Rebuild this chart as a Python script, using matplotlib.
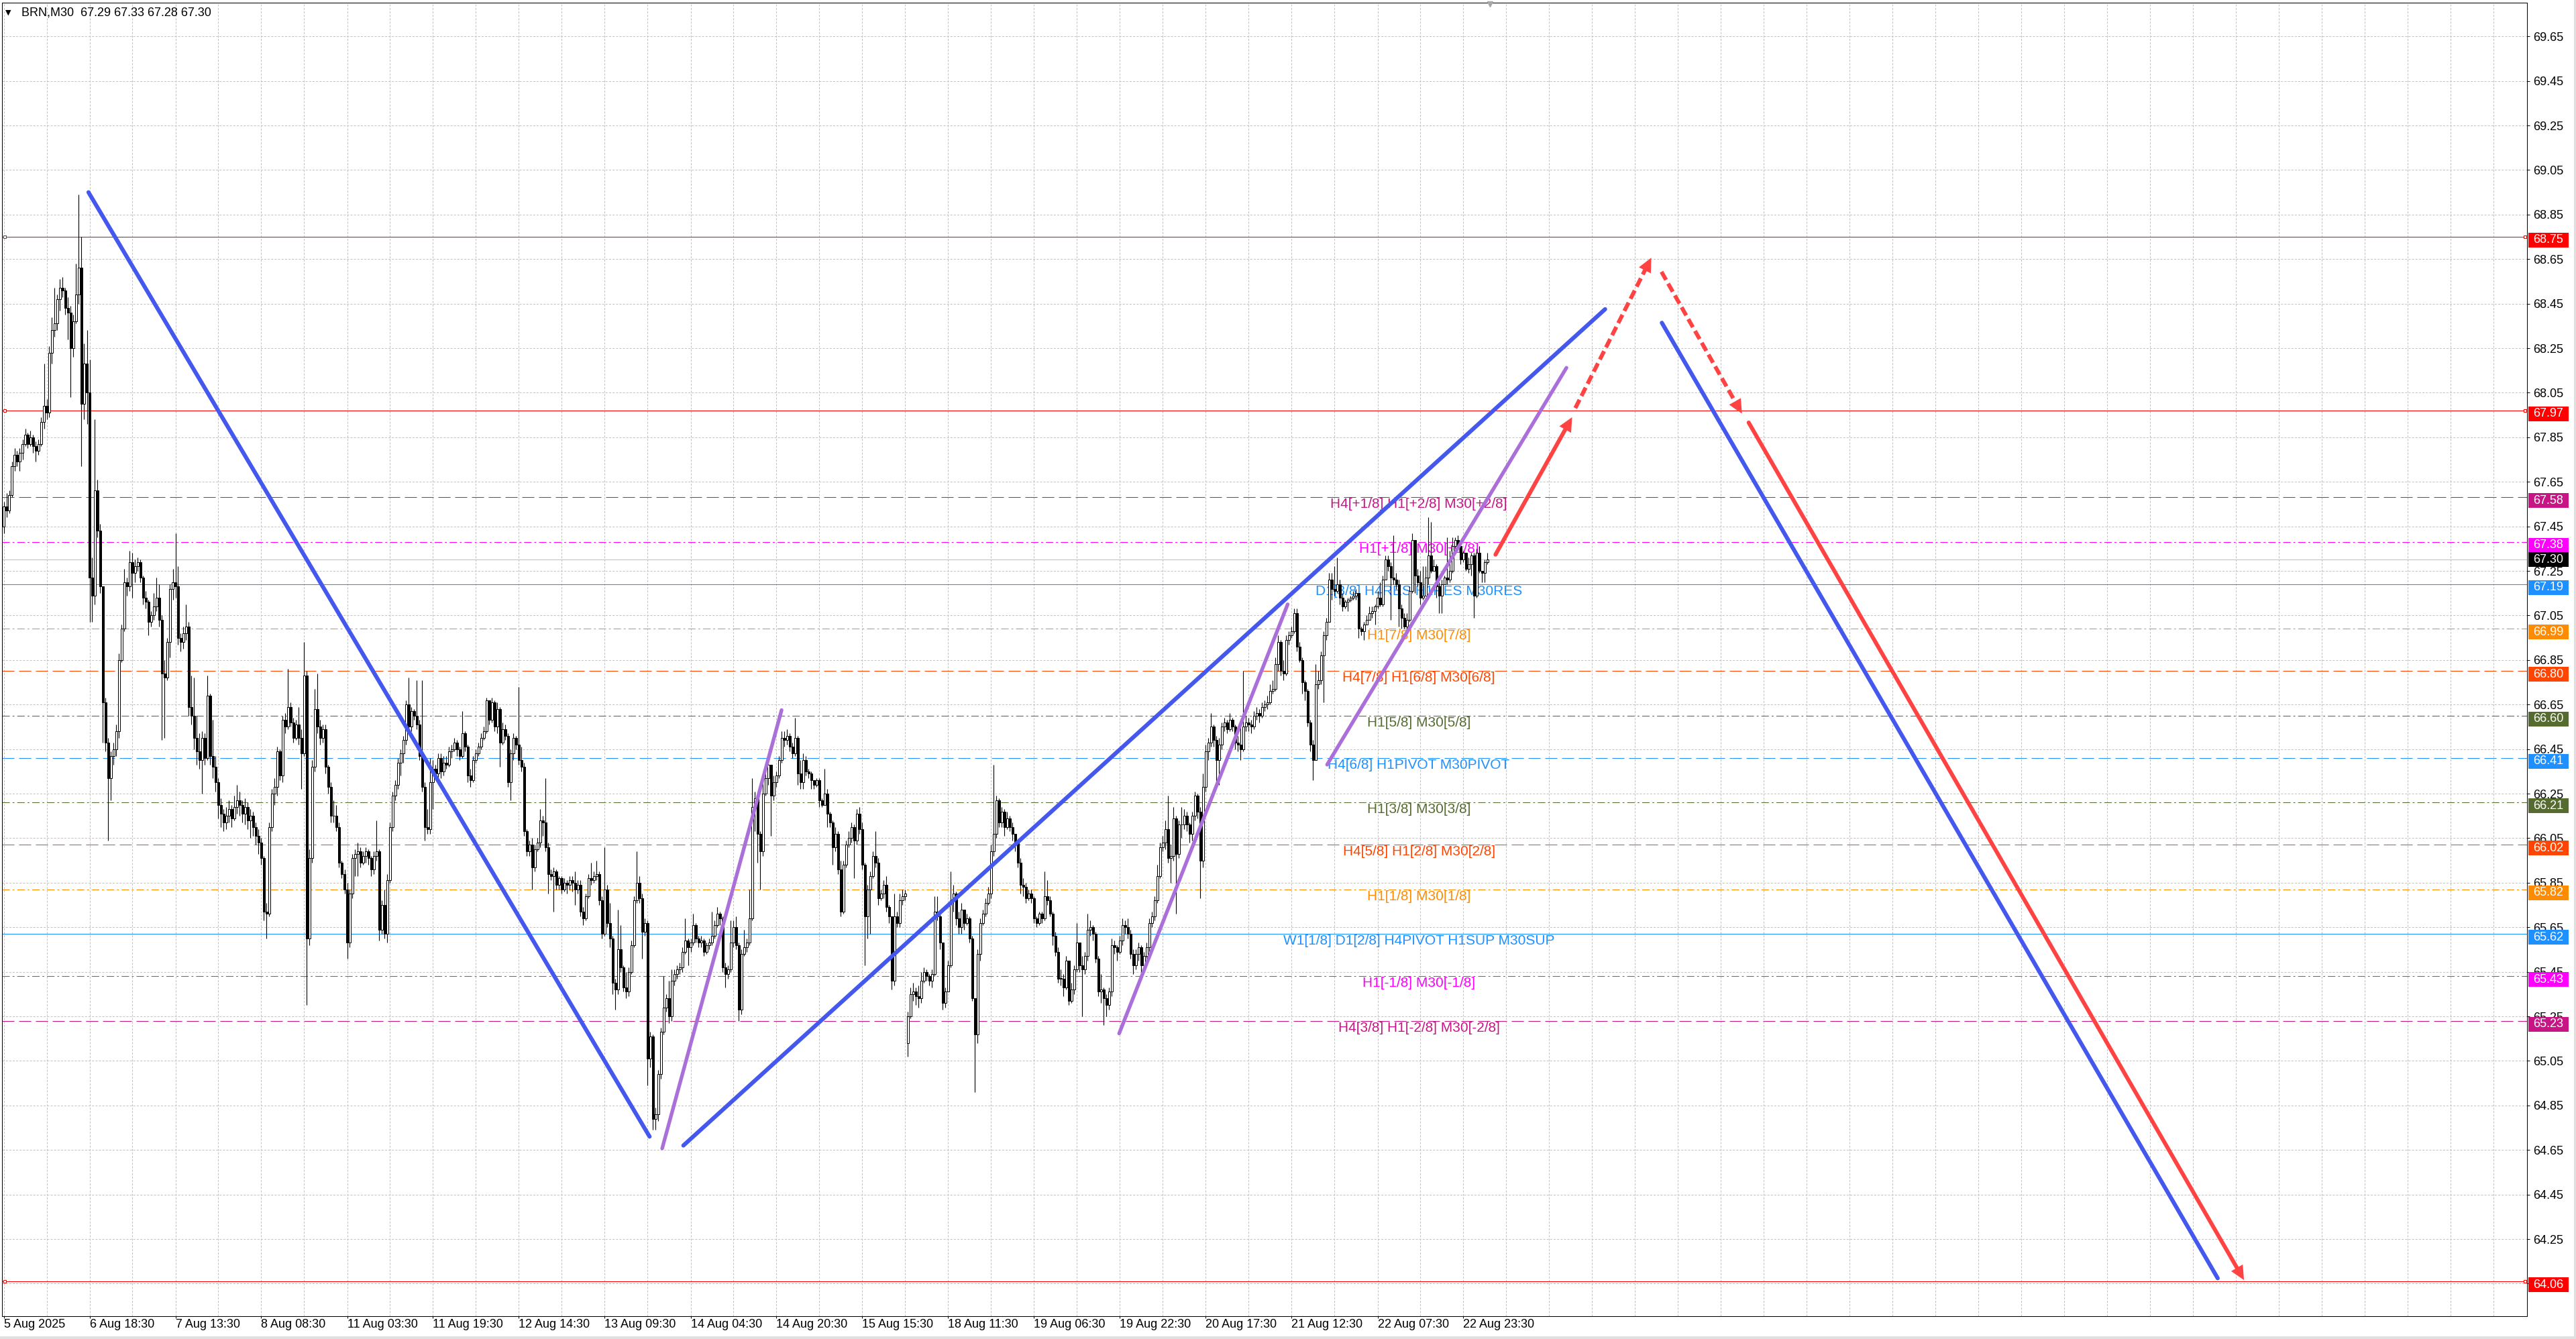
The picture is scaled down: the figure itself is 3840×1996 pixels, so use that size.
import numpy as np
import matplotlib
matplotlib.use("Agg")
import matplotlib.pyplot as plt
import matplotlib.transforms as mtransforms
from matplotlib.patches import Rectangle, Polygon

plt.rcParams['font.family'] = ['Liberation Sans', 'DejaVu Sans']
plt.rcParams['lines.scale_dashes'] = False

# ------------------------------------------------------------------ data
symbol_header = "BRN,M30  67.29 67.33 67.28 67.30"

close = [
 67.54, 67.52, 67.59, 67.72, 67.77, 67.74, 67.78, 67.82, 67.86, 67.82,
 67.85, 67.81, 67.79, 67.82, 67.92, 67.99, 67.96, 68.23, 68.33, 68.36,
 68.47, 68.52, 68.51, 68.43, 68.41, 68.25, 68.37, 68.49, 68.61, 68.00,
 68.18, 68.05, 67.22, 67.14, 67.61, 67.43, 67.18, 66.66, 66.48, 66.32,
 66.42, 66.45, 66.53, 66.85, 66.99, 67.20, 67.18, 67.29, 67.24, 67.27,
 67.29, 67.22, 67.13, 67.11, 67.02, 67.05, 67.09, 67.13, 67.03, 66.79,
 66.77, 66.93, 67.17, 67.20, 67.18, 66.95, 66.93, 66.97, 67.00, 66.64,
 66.60, 66.50, 66.44, 66.40, 66.50, 66.41, 66.69, 66.42, 66.37, 66.30,
 66.20, 66.16, 66.12, 66.15, 66.18, 66.14, 66.19, 66.22, 66.20, 66.16,
 66.19, 66.13, 66.15, 66.10, 66.06, 66.03, 65.96, 65.72, 65.71, 66.10,
 66.25, 66.28, 66.44, 66.33, 66.58, 66.55, 66.64, 66.57, 66.50, 66.56,
 66.50, 66.43, 66.78, 65.60, 65.96, 66.37, 66.63, 66.55, 66.50, 66.54,
 66.37, 66.28, 66.15, 66.15, 66.10, 65.94, 65.89, 65.82, 65.58, 65.80,
 65.96, 65.98, 65.99, 65.94, 65.97, 65.99, 65.96, 65.91, 65.97, 65.99,
 65.64, 65.75, 65.62, 65.86, 66.10, 66.24, 66.29, 66.39, 66.43, 66.49,
 66.65, 66.55, 66.62, 66.60, 66.56, 66.42, 66.28, 66.10, 66.09, 66.30,
 66.36, 66.34, 66.41, 66.35, 66.39, 66.38, 66.44, 66.45, 66.48, 66.45,
 66.42, 66.52, 66.46, 66.33, 66.31, 66.40, 66.43, 66.46, 66.50, 66.53,
 66.67, 66.58, 66.66, 66.55, 66.63, 66.48, 66.54, 66.51, 66.30, 66.43,
 66.50, 66.47, 66.40, 66.37, 66.08, 65.99, 66.02, 65.92, 66.00, 66.03,
 66.13, 66.12, 66.01, 65.89, 65.88, 65.90, 65.84, 65.87, 65.82, 65.85,
 65.84, 65.86, 65.85, 65.82, 65.84, 65.72, 65.69, 65.79, 65.87, 65.86,
 65.88, 65.89, 65.77, 65.62, 65.82, 65.67, 65.60, 65.40, 65.37, 65.55,
 65.47, 65.38, 65.36, 65.45, 65.57, 65.77, 65.85, 65.78, 65.63, 65.67,
 65.06, 65.16, 64.79, 64.81, 64.99, 65.18, 65.29, 65.33, 65.25, 65.41,
 65.44, 65.46, 65.47, 65.54, 65.59, 65.56, 65.58, 65.66, 65.60, 65.58,
 65.59, 65.54, 65.57, 65.58, 65.61, 65.66, 65.71, 65.69, 65.47, 65.44,
 65.46, 65.58, 65.65, 65.57, 65.28, 65.53, 65.56, 65.58, 65.69, 66.19,
 66.23, 66.07, 65.99, 66.25, 66.32, 66.38, 66.24, 66.30, 66.33, 66.40,
 66.50, 66.49, 66.51, 66.46, 66.43, 66.50, 66.34, 66.30, 66.40, 66.35,
 66.34, 66.31, 66.29, 66.31, 66.22, 66.20, 66.25, 66.16, 66.12, 66.01,
 66.07, 65.91, 65.72, 65.93, 66.02, 66.05, 66.10, 66.04, 66.16, 66.09,
 65.93, 65.70, 65.82, 65.88, 65.97, 65.94, 65.78, 65.80, 65.84, 65.74,
 65.70, 65.41, 65.70, 65.67, 65.77, 65.79, 65.80, 65.25, 65.35, 65.36,
 65.34, 65.33, 65.41, 65.45, 65.43, 65.41, 65.44, 65.72, 65.70, 65.58,
 65.31, 65.36, 65.48, 65.77, 65.80, 65.69, 65.65, 65.73, 65.67, 65.69,
 65.60, 65.33, 65.17, 65.53, 65.67, 65.71, 65.76, 65.80, 65.99, 66.07,
 66.22, 66.12, 66.17, 66.10, 66.14, 66.10, 66.07, 66.03, 65.94, 65.84,
 65.83, 65.78, 65.80, 65.78, 65.69, 65.67, 65.71, 65.69, 65.79, 65.77,
 65.71, 65.61, 65.54, 65.42, 65.42, 65.38, 65.50, 65.32, 65.37, 65.46,
 65.58, 65.48, 65.46, 65.52, 65.64, 65.65, 65.62, 65.51, 65.36, 65.37,
 65.33, 65.30, 65.36, 65.57, 65.56, 65.54, 65.59, 65.66, 65.65, 65.62,
 65.53, 65.48, 65.53, 65.56, 65.48, 65.52, 65.56, 65.67, 65.70, 65.77,
 65.88, 66.01, 66.03, 66.09, 65.96, 65.97, 66.14, 65.98, 66.11, 66.11,
 66.15, 66.11, 66.07, 66.15, 66.24, 66.17, 65.95, 66.28, 66.44, 66.48,
 66.55, 66.49, 66.40, 66.47, 66.55, 66.57, 66.54, 66.58, 66.55, 66.48,
 66.47, 66.45, 66.55, 66.57, 66.56, 66.55, 66.60, 66.61, 66.60, 66.64,
 66.65, 66.66, 66.71, 66.72, 66.83, 66.93, 66.80, 66.79, 66.94, 66.96,
 66.98, 67.06, 66.91, 66.85, 66.75, 66.71, 66.57, 66.47, 66.40, 66.74,
 66.76, 66.87, 66.96, 67.02, 67.21, 67.17, 67.16, 67.19, 67.13, 67.09,
 67.11, 67.12, 67.13, 67.14, 67.15, 66.99, 66.98, 67.01, 67.03, 67.06,
 67.07, 67.09, 67.13, 67.10, 67.21, 67.30, 67.27, 67.22, 67.21, 67.19,
 67.08, 67.04, 67.00, 67.03, 67.16, 67.39, 67.23, 67.20, 67.13, 67.14,
 67.22, 67.32, 67.25, 67.27, 67.18, 67.14, 67.19, 67.22, 67.21, 67.25,
 67.36, 67.39, 67.36, 67.30, 67.33, 67.26, 67.28, 67.32, 67.14, 67.33,
 67.25, 67.24, 67.29, 67.30,
]

high = [
 67.56, 67.60, 67.61, 67.74, 67.80, 67.79, 67.80, 67.84, 67.89, 67.87,
 67.88, 67.86, 67.83, 67.84, 67.94, 68.18, 68.02, 68.26, 68.39, 68.52,
 68.49, 68.56, 68.57, 68.52, 68.48, 68.44, 68.40, 68.63, 68.94, 68.75,
 68.27, 68.33, 68.20, 67.31, 67.93, 67.66, 67.46, 67.18, 66.68, 66.50,
 66.44, 66.48, 66.56, 66.88, 67.01, 67.26, 67.22, 67.34, 67.33, 67.30,
 67.31, 67.30, 67.23, 67.16, 67.12, 67.07, 67.15, 67.22, 67.19, 67.05,
 66.85, 66.95, 67.19, 67.26, 67.42, 67.27, 66.97, 67.00, 67.10, 67.02,
 66.78, 66.77, 66.60, 66.52, 66.53, 66.52, 66.78, 66.70, 66.58, 66.42,
 66.32, 66.23, 66.18, 66.19, 66.22, 66.20, 66.24, 66.29, 66.26, 66.22,
 66.23, 66.21, 66.18, 66.17, 66.12, 66.09, 66.05, 65.97, 65.76, 66.12,
 66.27, 66.32, 66.46, 66.45, 66.60, 66.61, 66.81, 66.66, 66.59, 66.58,
 66.64, 66.54, 66.93, 66.80, 66.00, 66.40, 66.72, 66.79, 66.58, 66.56,
 66.56, 66.38, 66.30, 66.22, 66.20, 66.12, 65.95, 65.91, 65.85, 65.82,
 65.98, 66.00, 66.03, 66.01, 65.99, 66.01, 66.00, 65.97, 65.99, 66.13,
 66.00, 65.77, 65.82, 65.89, 66.12, 66.26, 66.31, 66.41, 66.45, 66.51,
 66.67, 66.77, 66.64, 66.63, 66.76, 66.58, 66.76, 66.30, 66.18, 66.41,
 66.40, 66.38, 66.43, 66.43, 66.42, 66.42, 66.46, 66.47, 66.50, 66.49,
 66.46, 66.62, 66.53, 66.47, 66.36, 66.42, 66.45, 66.48, 66.52, 66.55,
 66.68, 66.67, 66.68, 66.67, 66.66, 66.64, 66.57, 66.56, 66.52, 66.45,
 66.52, 66.51, 66.73, 66.46, 66.39, 66.09, 66.04, 66.05, 66.02, 66.05,
 66.18, 66.15, 66.32, 66.03, 65.91, 65.92, 65.91, 65.88, 65.88, 65.87,
 65.86, 65.88, 65.88, 65.90, 65.86, 65.86, 65.74, 65.80, 65.89, 65.94,
 65.90, 65.95, 65.90, 65.79, 66.01, 65.84, 65.76, 65.61, 65.42, 65.73,
 65.66, 65.48, 65.45, 65.47, 65.59, 65.79, 65.99, 65.88, 65.80, 65.69,
 65.68, 65.18, 65.17, 64.84, 65.01, 65.20, 65.43, 65.35, 65.41, 65.46,
 65.46, 65.48, 65.49, 65.56, 65.69, 65.60, 65.60, 65.71, 65.67, 65.61,
 65.61, 65.60, 65.58, 65.60, 65.72, 65.68, 65.74, 65.72, 65.70, 65.49,
 65.48, 65.68, 65.68, 65.70, 65.58, 65.55, 65.64, 65.60, 65.82, 66.32,
 66.26, 66.24, 66.08, 66.30, 66.34, 66.43, 66.38, 66.33, 66.35, 66.42,
 66.53, 66.53, 66.54, 66.52, 66.48, 66.59, 66.51, 66.40, 66.43, 66.42,
 66.36, 66.35, 66.31, 66.32, 66.32, 66.23, 66.36, 66.27, 66.17, 66.13,
 66.10, 66.08, 65.95, 65.95, 66.04, 66.08, 66.12, 66.11, 66.18, 66.19,
 66.12, 65.94, 65.84, 65.90, 65.99, 66.08, 65.96, 65.82, 65.86, 65.88,
 65.75, 65.70, 65.80, 65.72, 65.80, 65.82, 65.82, 65.27, 65.38, 65.40,
 65.38, 65.39, 65.45, 65.47, 65.46, 65.44, 65.46, 65.79, 65.79, 65.71,
 65.58, 65.38, 65.50, 65.90, 65.84, 65.81, 65.72, 65.76, 65.72, 65.71,
 65.70, 65.61, 65.33, 65.55, 65.69, 65.73, 65.78, 65.83, 66.02, 66.38,
 66.24, 66.23, 66.19, 66.18, 66.17, 66.15, 66.12, 66.06, 66.03, 65.96,
 65.87, 65.85, 65.82, 65.82, 65.79, 65.70, 65.72, 65.72, 65.90, 65.86,
 65.79, 65.72, 65.63, 65.56, 65.46, 65.44, 65.52, 65.48, 65.40, 65.48,
 65.67, 65.58, 65.52, 65.54, 65.71, 65.68, 65.66, 65.63, 65.52, 65.44,
 65.38, 65.35, 65.38, 65.60, 65.59, 65.57, 65.61, 65.69, 65.68, 65.69,
 65.64, 65.55, 65.55, 65.58, 65.57, 65.54, 65.58, 65.69, 65.72, 65.79,
 65.93, 66.03, 66.06, 66.13, 66.24, 66.02, 66.19, 66.15, 66.13, 66.19,
 66.18, 66.17, 66.12, 66.17, 66.26, 66.25, 66.19, 66.34, 66.47, 66.50,
 66.61, 66.56, 66.51, 66.50, 66.57, 66.59, 66.58, 66.61, 66.59, 66.56,
 66.51, 66.55, 66.80, 66.60, 66.59, 66.58, 66.62, 66.64, 66.63, 66.66,
 66.67, 66.69, 66.74, 66.76, 66.86, 66.96, 66.94, 66.85, 66.96, 66.98,
 67.00, 67.08, 67.08, 66.93, 66.86, 66.76, 66.72, 66.58, 66.49, 66.83,
 66.80, 66.89, 66.98, 67.04, 67.24, 67.24, 67.27, 67.31, 67.21, 67.15,
 67.12, 67.13, 67.14, 67.16, 67.17, 67.15, 67.00, 67.02, 67.05, 67.09,
 67.09, 67.10, 67.16, 67.20, 67.23, 67.32, 67.32, 67.29, 67.41, 67.24,
 67.21, 67.10, 67.06, 67.06, 67.18, 67.42, 67.39, 67.26, 67.25, 67.27,
 67.27, 67.49, 67.47, 67.30, 67.28, 67.20, 67.21, 67.23, 67.40, 67.34,
 67.40, 67.40, 67.41, 67.37, 67.34, 67.31, 67.31, 67.33, 67.33, 67.35,
 67.36, 67.25, 67.30, 67.33,
]

low = [
 67.42, 67.49, 67.51, 67.58, 67.70, 67.72, 67.70, 67.75, 67.81, 67.80,
 67.81, 67.78, 67.74, 67.77, 67.81, 67.89, 67.93, 67.94, 68.18, 68.30,
 68.33, 68.42, 68.48, 68.40, 68.29, 68.03, 68.21, 68.36, 68.45, 67.72,
 67.93, 67.91, 67.02, 67.02, 67.10, 67.40, 67.15, 66.48, 66.44, 66.04,
 66.22, 66.38, 66.42, 66.50, 66.84, 66.98, 67.14, 67.16, 67.13, 67.20,
 67.25, 67.20, 67.10, 67.08, 66.96, 67.00, 67.03, 67.07, 67.00, 66.49,
 66.50, 66.76, 66.86, 67.12, 67.13, 66.92, 66.89, 66.90, 66.94, 66.60,
 66.56, 66.45, 66.38, 66.36, 66.25, 66.38, 66.40, 66.38, 66.32, 66.26,
 66.14, 66.10, 66.08, 66.09, 66.12, 66.10, 66.13, 66.16, 66.15, 66.12,
 66.11, 66.09, 66.05, 66.06, 66.02, 65.98, 65.93, 65.68, 65.60, 65.70,
 66.08, 66.20, 66.24, 66.31, 66.30, 66.52, 66.54, 66.55, 66.48, 66.49,
 66.47, 66.27, 66.42, 65.30, 65.57, 65.94, 66.35, 66.52, 66.47, 66.48,
 66.34, 66.25, 66.12, 66.12, 66.08, 65.92, 65.87, 65.80, 65.51, 65.56,
 65.78, 65.88, 65.88, 65.92, 65.93, 65.94, 65.93, 65.88, 65.89, 65.95,
 65.59, 65.62, 65.60, 65.58, 65.85, 66.08, 66.22, 66.27, 66.33, 66.39,
 66.47, 66.53, 66.53, 66.58, 66.54, 66.40, 66.26, 66.04, 66.07, 66.07,
 66.18, 66.31, 66.32, 66.32, 66.33, 66.36, 66.37, 66.41, 66.44, 66.42,
 66.40, 66.41, 66.44, 66.30, 66.28, 66.30, 66.39, 66.42, 66.45, 66.49,
 66.52, 66.56, 66.57, 66.53, 66.52, 66.37, 66.47, 66.49, 66.28, 66.22,
 66.40, 66.45, 66.38, 66.35, 66.06, 65.97, 65.97, 65.82, 65.90, 65.99,
 66.01, 66.06, 65.99, 65.80, 65.86, 65.72, 65.82, 65.82, 65.80, 65.81,
 65.80, 65.82, 65.81, 65.75, 65.80, 65.70, 65.66, 65.68, 65.78, 65.84,
 65.85, 65.86, 65.75, 65.60, 65.61, 65.65, 65.56, 65.35, 65.28, 65.35,
 65.45, 65.36, 65.33, 65.34, 65.44, 65.56, 65.76, 65.76, 65.51, 65.61,
 64.94, 65.02, 64.74, 64.74, 64.78, 64.97, 65.17, 65.27, 65.22, 65.23,
 65.39, 65.42, 65.44, 65.45, 65.53, 65.48, 65.54, 65.57, 65.58, 65.56,
 65.56, 65.52, 65.53, 65.55, 65.57, 65.60, 65.65, 65.66, 65.45, 65.38,
 65.42, 65.45, 65.56, 65.55, 65.23, 65.26, 65.52, 65.54, 65.57, 65.68,
 66.08, 65.94, 65.82, 65.97, 66.24, 66.29, 66.06, 66.22, 66.28, 66.32,
 66.39, 66.46, 66.47, 66.44, 66.41, 66.42, 66.29, 66.27, 66.27, 66.33,
 66.32, 66.27, 66.27, 66.28, 66.19, 66.19, 66.20, 66.10, 66.10, 65.93,
 65.99, 65.89, 65.70, 65.71, 65.92, 66.01, 66.03, 65.87, 66.02, 66.07,
 65.91, 65.48, 65.60, 65.62, 65.87, 65.92, 65.75, 65.77, 65.78, 65.72,
 65.67, 65.37, 65.39, 65.65, 65.65, 65.75, 65.77, 65.07, 65.24, 65.32,
 65.30, 65.29, 65.31, 65.40, 65.41, 65.39, 65.38, 65.43, 65.68, 65.55,
 65.28, 65.29, 65.36, 65.47, 65.72, 65.66, 65.62, 65.62, 65.64, 65.66,
 65.58, 65.32, 64.91, 65.13, 65.50, 65.66, 65.70, 65.75, 65.78, 65.97,
 66.05, 66.10, 66.10, 66.06, 66.09, 66.08, 66.04, 65.99, 65.92, 65.80,
 65.79, 65.76, 65.77, 65.76, 65.67, 65.65, 65.66, 65.67, 65.68, 65.75,
 65.70, 65.57, 65.52, 65.40, 65.39, 65.34, 65.37, 65.30, 65.31, 65.35,
 65.45, 65.45, 65.25, 65.44, 65.50, 65.61, 65.59, 65.49, 65.34, 65.31,
 65.21, 65.25, 65.28, 65.34, 65.53, 65.50, 65.53, 65.57, 65.62, 65.60,
 65.51, 65.44, 65.46, 65.50, 65.45, 65.46, 65.49, 65.54, 65.65, 65.68,
 65.76, 65.87, 65.99, 66.00, 65.94, 65.85, 65.95, 65.71, 65.96, 66.05,
 66.09, 66.08, 66.03, 66.04, 66.13, 66.14, 65.78, 65.92, 66.26, 66.40,
 66.46, 66.46, 66.30, 66.29, 66.45, 66.53, 66.52, 66.53, 66.53, 66.45,
 66.44, 66.40, 66.44, 66.53, 66.53, 66.52, 66.54, 66.58, 66.57, 66.59,
 66.62, 66.63, 66.65, 66.70, 66.71, 66.80, 66.78, 66.76, 66.78, 66.92,
 66.95, 66.97, 66.89, 66.84, 66.70, 66.67, 66.55, 66.44, 66.31, 66.40,
 66.72, 66.74, 66.66, 66.94, 67.02, 67.12, 67.14, 67.15, 67.10, 67.07,
 67.08, 67.07, 67.11, 67.12, 67.12, 66.95, 66.96, 66.94, 67.01, 67.03,
 67.04, 67.01, 67.08, 67.09, 67.09, 67.22, 67.25, 67.03, 67.19, 67.17,
 67.00, 66.99, 66.99, 66.98, 67.02, 67.15, 67.15, 67.18, 67.10, 67.12,
 67.20, 67.19, 67.24, 67.26, 67.13, 67.06, 67.06, 67.19, 67.19, 67.20,
 67.24, 67.35, 67.35, 67.28, 67.29, 67.25, 67.24, 67.23, 67.04, 67.13,
 67.24, 67.20, 67.20, 67.28,
]

# opens follow the previous close except where a session gap occurs
gap_opens = {0: 67.45, 337: 65.13}

x_label_bars = [0, 32, 64, 96, 128, 160, 192, 224, 256, 288, 320, 352, 384, 416, 448, 480, 512, 544]
x_labels = ["5 Aug 2025", "6 Aug 18:30", "7 Aug 13:30", "8 Aug 08:30", "11 Aug 03:30",
            "11 Aug 19:30", "12 Aug 14:30", "13 Aug 09:30", "14 Aug 04:30", "14 Aug 20:30",
            "15 Aug 15:30", "18 Aug 11:30", "19 Aug 06:30", "19 Aug 22:30", "20 Aug 17:30",
            "21 Aug 12:30", "22 Aug 07:30", "22 Aug 23:30"]

y_ticks = [64.05, 64.25, 64.45, 64.65, 64.85, 65.05, 65.25, 65.45, 65.65, 65.85,
           66.05, 66.25, 66.45, 66.65, 66.85, 67.05, 67.25, 67.45, 67.65, 67.85,
           68.05, 68.25, 68.45, 68.65, 68.85, 69.05, 69.25, 69.45, 69.65]

level_prices = [68.75, 67.97, 67.58, 67.38, 67.19, 66.99, 66.80, 66.60,
                66.41, 66.21, 66.02, 65.82, 65.62, 65.43, 65.23, 64.06]
level_colors = ['#FF0000', '#FF0000', '#C71585', '#FF00FF', '#1E90FF', '#FF8C00', '#FF4500', '#556B2F',
                '#1E90FF', '#556B2F', '#FF4500', '#FF8C00', '#1E90FF', '#FF00FF', '#C71585', '#FF0000']
level_styles = ['solid', 'solid', 'dash', 'dashdot', 'solid', 'dashdot', 'dash', 'dashdot',
                'dash', 'dashdot', 'dash', 'dashdot', 'solid', 'dashdot', 'dash', 'solid']
level_texts = ['', '', 'H4[+1/8] H1[+2/8] M30[+2/8]', 'H1[+1/8] M30[+1/8]',
               'D1[3/8] H4RES H1RES M30RES', 'H1[7/8] M30[7/8]', 'H4[7/8] H1[6/8] M30[6/8]',
               'H1[5/8] M30[5/8]', 'H4[6/8] H1PIVOT M30PIVOT', 'H1[3/8] M30[3/8]',
               'H4[5/8] H1[2/8] M30[2/8]', 'H1[1/8] M30[1/8]',
               'W1[1/8] D1[2/8] H4PIVOT H1SUP M30SUP', 'H1[-1/8] M30[-1/8]',
               'H4[3/8] H1[-2/8] M30[-2/8]', '']
level_text_bar = 527.4
bid_price = 67.30

# drawn trend objects: ((bar, price), (bar, price))
blue_lines = [((31.6, 68.95), (240.7, 64.71)),
              ((253.3, 64.67), (596.8, 68.425)),
              ((617.95, 68.364), (825.1, 64.074))]
purple_lines = [((245.4, 64.657), (289.9, 66.625)),
                ((415.7, 65.173), (478.5, 67.10)),
                ((493.2, 66.38), (582.4, 68.162))]
red_arrows = [((555.95, 67.323), (584.5, 67.94), False),
              ((585.7, 67.981), (614.0, 68.656), True),
              ((617.8, 68.593), (647.8, 67.956), True),
              ((650.3, 67.916), (834.9, 64.066), False)]

# ------------------------------------------------------------------ figure
W, HH = 3840, 1996
fig = plt.figure(figsize=(W / 100, HH / 100), dpi=100)
fig.patch.set_facecolor('white')
AX_L, AX_R, AX_T, AX_B = 3, 3767, 4, 1962
ax = fig.add_axes([AX_L / W, (HH - AX_B) / HH, (AX_R - AX_L) / W, (AX_B - AX_T) / HH])
ax.set_facecolor('white')

X0, PXB = 5.5, 4.0            # pixel position of bar 0, pixels per bar
Y_REF, P_REF, PXU = 353, 68.75, 332.0
ax.set_xlim((AX_L - X0) / PXB, (AX_R - X0) / PXB)
ax.set_ylim(P_REF - (AX_B - Y_REF) / PXU, P_REF + (Y_REF - AX_T) / PXU)
xlo, xhi = ax.get_xlim()

# grid
grid_kw = dict(color='#C4C4C4', lw=0.75, linestyle=(0, (2.2, 1.5)), zorder=0.5)
for b in range(0, int(xhi) + 1, 16):
    ax.axvline(b, **grid_kw)
for t in y_ticks:
    ax.axhline(t, **grid_kw)

# level lines
ls_map = {'solid': '-', 'dash': (0, (13, 5)), 'dashdot': (0, (8, 3, 2, 3))}
for p, c, s in zip(level_prices, level_colors, level_styles):
    ax.axhline(p, color=c, lw=0.75, linestyle=ls_map[s], zorder=1)
ax.axhline(bid_price, color='#C0C0C0', lw=0.75, zorder=1)
for p, c in zip(level_prices, level_colors):
    if c == '#FF0000':
        ax.plot([0.4, (AX_R - 3 - X0) / PXB], [p, p], ls='none', marker='s', ms=3.2,
                mfc='white', mec='#FF0000', mew=0.75, zorder=1.2)

# level texts
txt_tr = mtransforms.offset_copy(ax.transData, fig=fig, x=0, y=-1, units='dots')
for p, c, t in zip(level_prices, level_colors, level_texts):
    if t:
        ax.text(level_text_bar, p, t, color=c, fontsize=15, ha='center', va='top',
                transform=txt_tr, zorder=2.5)

# candles
n = len(close)
assert len(high) == n and len(low) == n, (len(close), len(high), len(low))
c_arr = np.array(close)
o_arr = np.array([gap_opens[i] if i in gap_opens else close[i - 1] for i in range(n)])
h_arr = np.maximum(np.array(high), np.maximum(o_arr, c_arr))
l_arr = np.minimum(np.array(low), np.minimum(o_arr, c_arr))
xs = np.arange(n)
ax.vlines(xs, l_arr, h_arr, colors='black', lw=0.8, zorder=3)
body_h = np.maximum(np.abs(c_arr - o_arr), 0.002)
body_b = np.minimum(o_arr, c_arr)
fills = ['white' if c >= o else 'black' for o, c in zip(o_arr, c_arr)]
ax.bar(xs, body_h, bottom=body_b, width=0.62, color=fills, edgecolor='black',
       linewidth=0.72, zorder=4)

# trend lines
BLUE, PURPLE, RED = '#4558EE', '#AB6FDA', '#FF4242'
for (a, b) in blue_lines:
    ax.plot([a[0], b[0]], [a[1], b[1]], color=BLUE, lw=4.4, solid_capstyle='round', zorder=6)
for (a, b) in purple_lines:
    ax.plot([a[0], b[0]], [a[1], b[1]], color=PURPLE, lw=3.9, solid_capstyle='round', zorder=6)

inv = ax.transData.inverted()
for (a, b, dashed) in red_arrows:
    pa = ax.transData.transform(a)
    pb = ax.transData.transform(b)
    d = pb - pa
    u = d / np.hypot(*d)
    nv = np.array([-u[1], u[0]])
    hl, hw = 21.0, 10.0
    base = pb - u * hl
    shaft_end = inv.transform(pb - u * (hl - 5))
    ls = (0, (10.0, 4.6)) if dashed else '-'
    ax.plot([a[0], shaft_end[0]], [a[1], shaft_end[1]], color=RED, lw=4.3, linestyle=ls,
            solid_capstyle='round', dash_capstyle='butt', zorder=7)
    tri = inv.transform(np.array([pb, base + nv * hw, base - nv * hw]))
    ax.add_patch(Polygon(tri, closed=True, facecolor=RED, edgecolor='none', zorder=7))

# axes / ticks
for sp in ax.spines.values():
    sp.set_color('black')
    sp.set_linewidth(0.75)
ax.yaxis.tick_right()
ax.set_yticks(y_ticks)
ax.set_yticklabels([f'{t:.2f}' for t in y_ticks])
ax.tick_params(axis='y', which='major', direction='out', length=3, width=0.75, pad=3.5,
               labelsize=13, colors='black', right=True, left=False)
ax.set_xticks(x_label_bars)
ax.set_xticklabels(x_labels, ha='left')
ax.tick_params(axis='x', which='major', direction='out', length=2.5, width=0.75, pad=0.5,
               labelsize=13, colors='black')

# price boxes on the right scale
trans_b = mtransforms.blended_transform_factory(ax.transAxes, ax.transData)
axw = AX_R - AX_L
box_items = list(zip(level_prices, level_colors)) + [(bid_price, '#000000')]
for p, col in box_items:
    yc = p if col == '#000000' else p - 5 / PXU
    ax.add_patch(Rectangle(((3769 - AX_L) / axw, yc - 11 / PXU), 60 / axw, 22 / PXU,
                           transform=trans_b, facecolor=col, edgecolor='none',
                           clip_on=False, zorder=10))
    ax.text((3776 - AX_L) / axw, yc, f'{p:.2f}', transform=trans_b, color='white',
            fontsize=13, ha='left', va='center', clip_on=False, zorder=11)

# chart shift marker at the top
ax.plot([(2221 - X0) / PXB], [ax.get_ylim()[1] - 2 / PXU], marker='v', color='#A8A8A8',
        ms=6, clip_on=False, zorder=12)

# header
fig.text(8 / W, 1 - 19 / HH, '\u25BC', fontsize=8, va='center', ha='left',
         family=['DejaVu Sans'], color='black')
fig.text(32 / W, 1 - 19 / HH, symbol_header, fontsize=13, va='center', ha='left', color='black')

# window frame
fig.add_artist(Rectangle((0, 0), 1, 4 / HH, transform=fig.transFigure, facecolor='#E0E0E0',
                         edgecolor='none'))
fig.add_artist(Rectangle((1 - 3 / W, 0), 3 / W, 1, transform=fig.transFigure,
                         facecolor='#E0E0E0', edgecolor='none'))

fig.savefig('out.png', dpi=100, facecolor='white')
